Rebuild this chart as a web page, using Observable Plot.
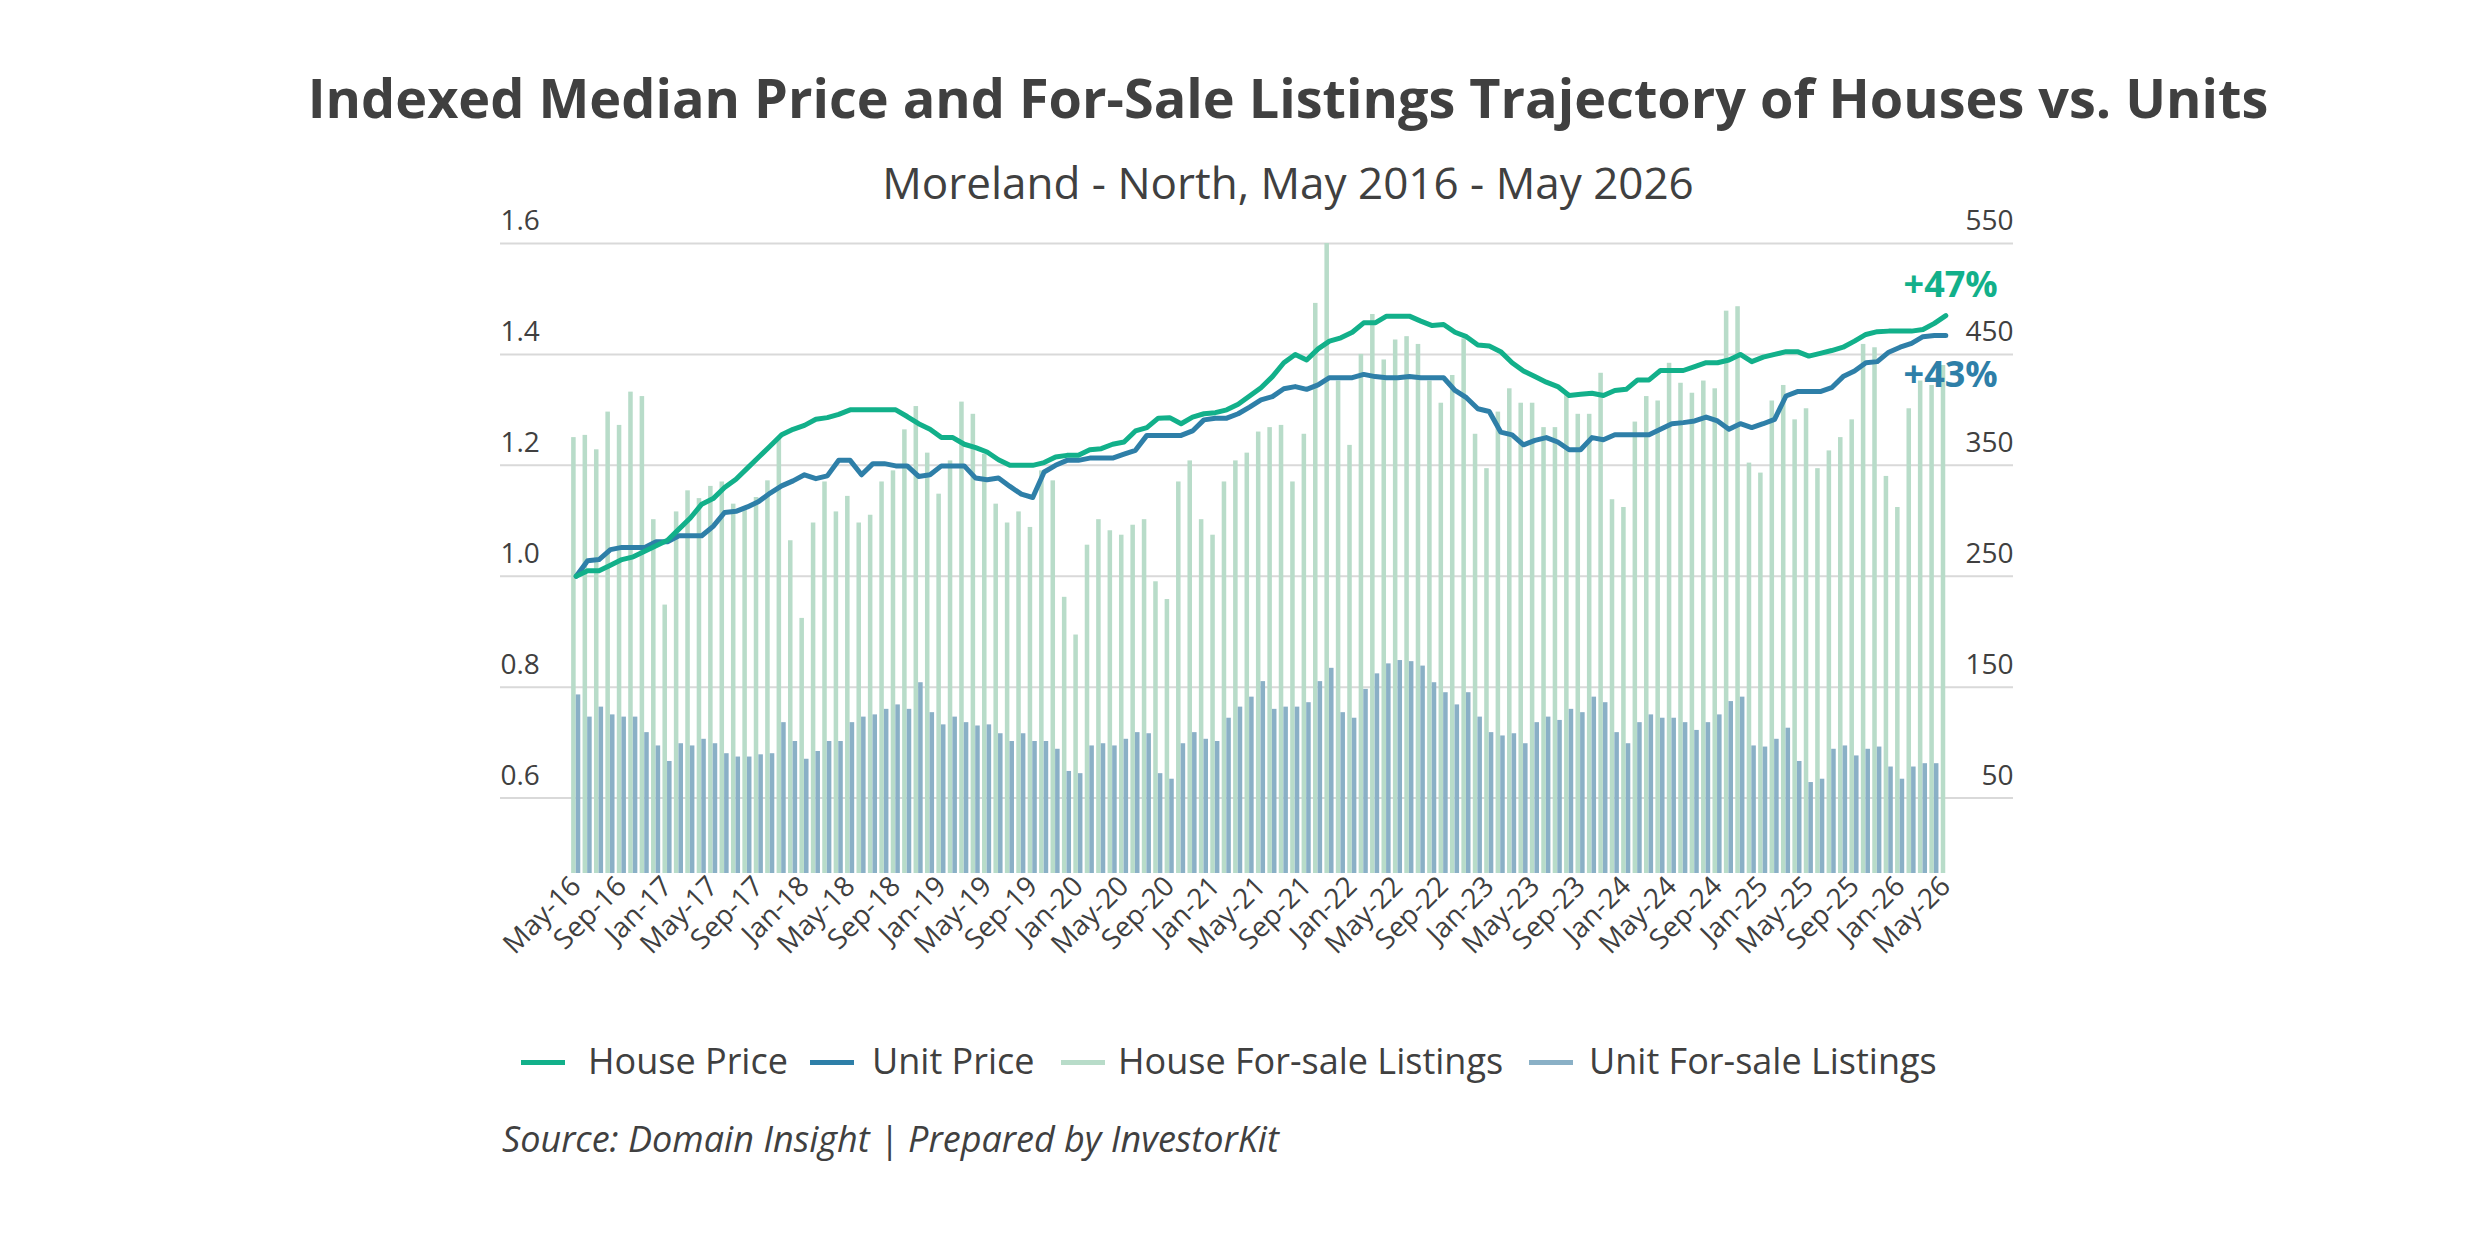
<!DOCTYPE html>
<html><head><meta charset="utf-8">
<script src="https://cdn.jsdelivr.net/npm/d3@7"></script>
<script src="https://cdn.jsdelivr.net/npm/@observablehq/plot@0.6"></script>
<style>
body{margin:0;background:#fff;font-family:"Open Sans",sans-serif;color:#404040;overflow:hidden;}
#wrap{position:relative;width:2476px;height:1233px;overflow:hidden;}
.abs{position:absolute;white-space:nowrap;}
#title{left:98px;width:2380px;text-align:center;top:60px;font-size:54px;font-weight:700;color:#404040;}
#sub{left:98px;width:2380px;text-align:center;top:152px;font-size:44px;color:#404040;}
#chart{position:absolute;left:0;top:0;}
.leg{top:1036px;font-size:36px;}
.sw{position:absolute;top:1060px;height:5px;width:44px;}
#src{left:502px;top:1114px;font-size:36px;font-style:italic;}
</style></head><body>
<div id="wrap">
<div id="chart"></div>
<div class="abs" id="title">Indexed Median Price and For-Sale Listings Trajectory of Houses vs. Units</div>
<div class="abs" id="sub">Moreland - North, May 2016 - May 2026</div>
<div class="sw" style="left:521px;background:#12b08a"></div><div class="abs leg" style="left:588px">House Price</div>
<div class="sw" style="left:810px;background:#2e7fa8"></div><div class="abs leg" style="left:872px">Unit Price</div>
<div class="sw" style="left:1061px;background:#b8dcc9"></div><div class="abs leg" style="left:1118px">House For-sale Listings</div>
<div class="sw" style="left:1529px;background:#8ab0c6"></div><div class="abs leg" style="left:1589px">Unit For-sale Listings</div>
<div class="abs" id="src">Source: Domain Insight | Prepared by InvestorKit</div>
</div>
<script>
const months = d3.utcMonth.range(new Date(Date.UTC(2016,4,1)), new Date(Date.UTC(2026,5,1)));
const monthLabel = d3.utcFormat("%b-%y");
const tickIdx = d3.range(0,121,4);

const housePrice = [1.00,1.01,1.01,1.02,1.03,1.035,1.045,1.055,1.065,1.085,1.105,1.13,1.14,1.16,1.175,1.195,1.215,1.235,1.255,1.265,1.272,1.283,1.286,1.292,1.30,1.30,1.30,1.30,1.30,1.288,1.275,1.265,1.25,1.25,1.238,1.232,1.224,1.21,1.2,1.2,1.2,1.205,1.215,1.218,1.218,1.228,1.23,1.238,1.242,1.262,1.268,1.285,1.286,1.275,1.287,1.293,
1.295,1.30,1.31,1.325,1.34,1.36,1.385,1.40,1.39,1.41,1.424,1.43,1.44,1.457,1.457,1.469,1.469,1.469,1.46,1.452,1.454,1.44,1.432,1.417,1.415,1.405,1.385,1.37,1.36,1.35,1.342,1.326,1.328,1.33,1.326,1.335,1.337,1.354,1.354,1.371,1.371,1.371,1.378,1.385,1.385,1.39,1.40,1.387,1.395,1.40,1.405,1.405,1.397,1.402,1.407,1.413,1.424,1.436,1.441,1.442,1.442,1.442,1.445,1.456,1.47];
const unitPrice = [1.0,1.028,1.03,1.048,1.052,1.052,1.052,1.062,1.062,1.073,1.073,1.073,1.09,1.115,1.117,1.125,1.135,1.15,1.163,1.172,1.183,1.176,1.181,1.209,1.209,1.183,1.203,1.203,1.199,1.199,1.18,1.183,1.199,1.199,1.199,1.177,1.174,1.177,1.162,1.148,1.142,1.188,1.2,1.209,1.209,1.213,1.213,1.213,1.22,1.227,1.254,1.254,1.254,1.254,1.262,1.282,
1.285,1.285,1.293,1.305,1.318,1.324,1.338,1.342,1.337,1.345,1.358,1.358,1.358,1.364,1.36,1.358,1.358,1.36,1.358,1.358,1.358,1.335,1.322,1.302,1.297,1.26,1.255,1.237,1.245,1.25,1.242,1.228,1.228,1.25,1.246,1.255,1.255,1.255,1.255,1.265,1.275,1.277,1.28,1.287,1.28,1.265,1.275,1.268,1.275,1.283,1.325,1.333,1.333,1.333,1.34,1.36,1.37,1.385,1.387,1.404,1.413,1.42,1.432,1.434,1.434];
const houseListings = [375,377,364,398,386,416,412,301,224,308,327,320,331,335,315,311,321,336,374,282,212,298,335,308,322,298,305,335,345,382,403,361,324,354,407,396,360,315,298,308,294,345,336,231,197,278,301,291,287,296,301,245,229,335,354,301,
287,335,354,361,380,384,386,335,378,496,550,426,368,450,486,445,463,466,459,426,406,431,464,378,347,398,419,406,406,384,384,415,396,396,433,319,312,389,412,408,442,424,415,426,419,489,493,352,343,408,422,391,401,347,363,375,391,459,456,340,312,401,426,422,440];
const unitListings = [143,123,132,125,123,123,109,97,83,99,97,103,99,90,87,87,89,90,118,101,85,92,101,101,118,123,125,130,134,130,154,127,116,123,118,115,116,108,101,108,101,101,94,74,72,97,99,97,103,109,108,72,67,99,109,103,
101,122,132,141,155,130,132,132,136,155,167,127,122,148,162,171,174,173,169,154,145,134,145,123,109,106,108,99,118,123,120,130,127,141,136,109,99,118,125,122,122,118,111,118,125,137,141,97,96,103,113,83,64,67,94,97,88,94,96,78,67,78,81,81];

const toIdx = v => 1 + (v - 250) / 500;
const yMin = 0.464;
const data = months.map((m,i)=>({i, hp:housePrice[i], up:unitPrice[i], hl:toIdx(houseListings[i]), ul:toIdx(unitListings[i])}));
const leftTicks = [0.6,0.8,1.0,1.2,1.4,1.6];
const fs = 28;

const plot = Plot.plot({
  width: 2476, height: 1010,
  marginLeft: 500, marginRight: 463, marginTop: 243, marginBottom: 137,
  style: {fontFamily: "Open Sans", fontSize: fs+"px", color: "#404040", background: "transparent"},
  x: {type: "band", domain: d3.range(121), paddingInner: 0.2, paddingOuter: 0.1, insetLeft: 70, insetRight: 62},
  y: {domain: [yMin, 1.6]},
  marks: [
    Plot.ruleY(leftTicks, {stroke: "#d9d9d9", strokeWidth: 2}),
    Plot.barY(data, {x: "i", y1: yMin, y2: "hl", fill: "#b8dcc9", insetRight: 4.6}),
    Plot.barY(data, {x: "i", y1: yMin, y2: "ul", fill: "#8ab0c6", insetLeft: 4.6}),
    Plot.line(data, {x: "i", y: "up", stroke: "#2e7fa8", strokeWidth: 5}),
    Plot.line(data, {x: "i", y: "hp", stroke: "#12b08a", strokeWidth: 5}),
    Plot.text(leftTicks, {y: d=>d, text: d=>d.toFixed(1), frameAnchor: "left", textAnchor: "start", dy: -22, fill: "#404040", fontSize: fs}),
    Plot.text(leftTicks, {y: d=>d, text: d=>String(Math.round(250+(d-1)*500)), frameAnchor: "right", textAnchor: "end", dy: -22, fill: "#404040", fontSize: fs}),
    Plot.text([data[120]], {x: "i", y: "hp", text: ["+47%"], textAnchor: "end", dx: 52, dy: -30, fill: "#12b08a", fontWeight: 700, fontSize: 36}),
    Plot.text([data[120]], {x: "i", y: "up", text: ["+43%"], textAnchor: "end", dx: 52, dy: 40, fill: "#2e7fa8", fontWeight: 700, fontSize: 36}),
    Plot.axisX({ticks: tickIdx, tickFormat: i => monthLabel(months[i]), tickRotate: -45, tickSize: 0, tickPadding: 8, fontSize: fs, fill: "#404040", label: null}),
    Plot.axisY({ticks: [], label: null, tickSize: 0})
  ]
});
document.getElementById("chart").appendChild(plot);
</script>
</body></html>
